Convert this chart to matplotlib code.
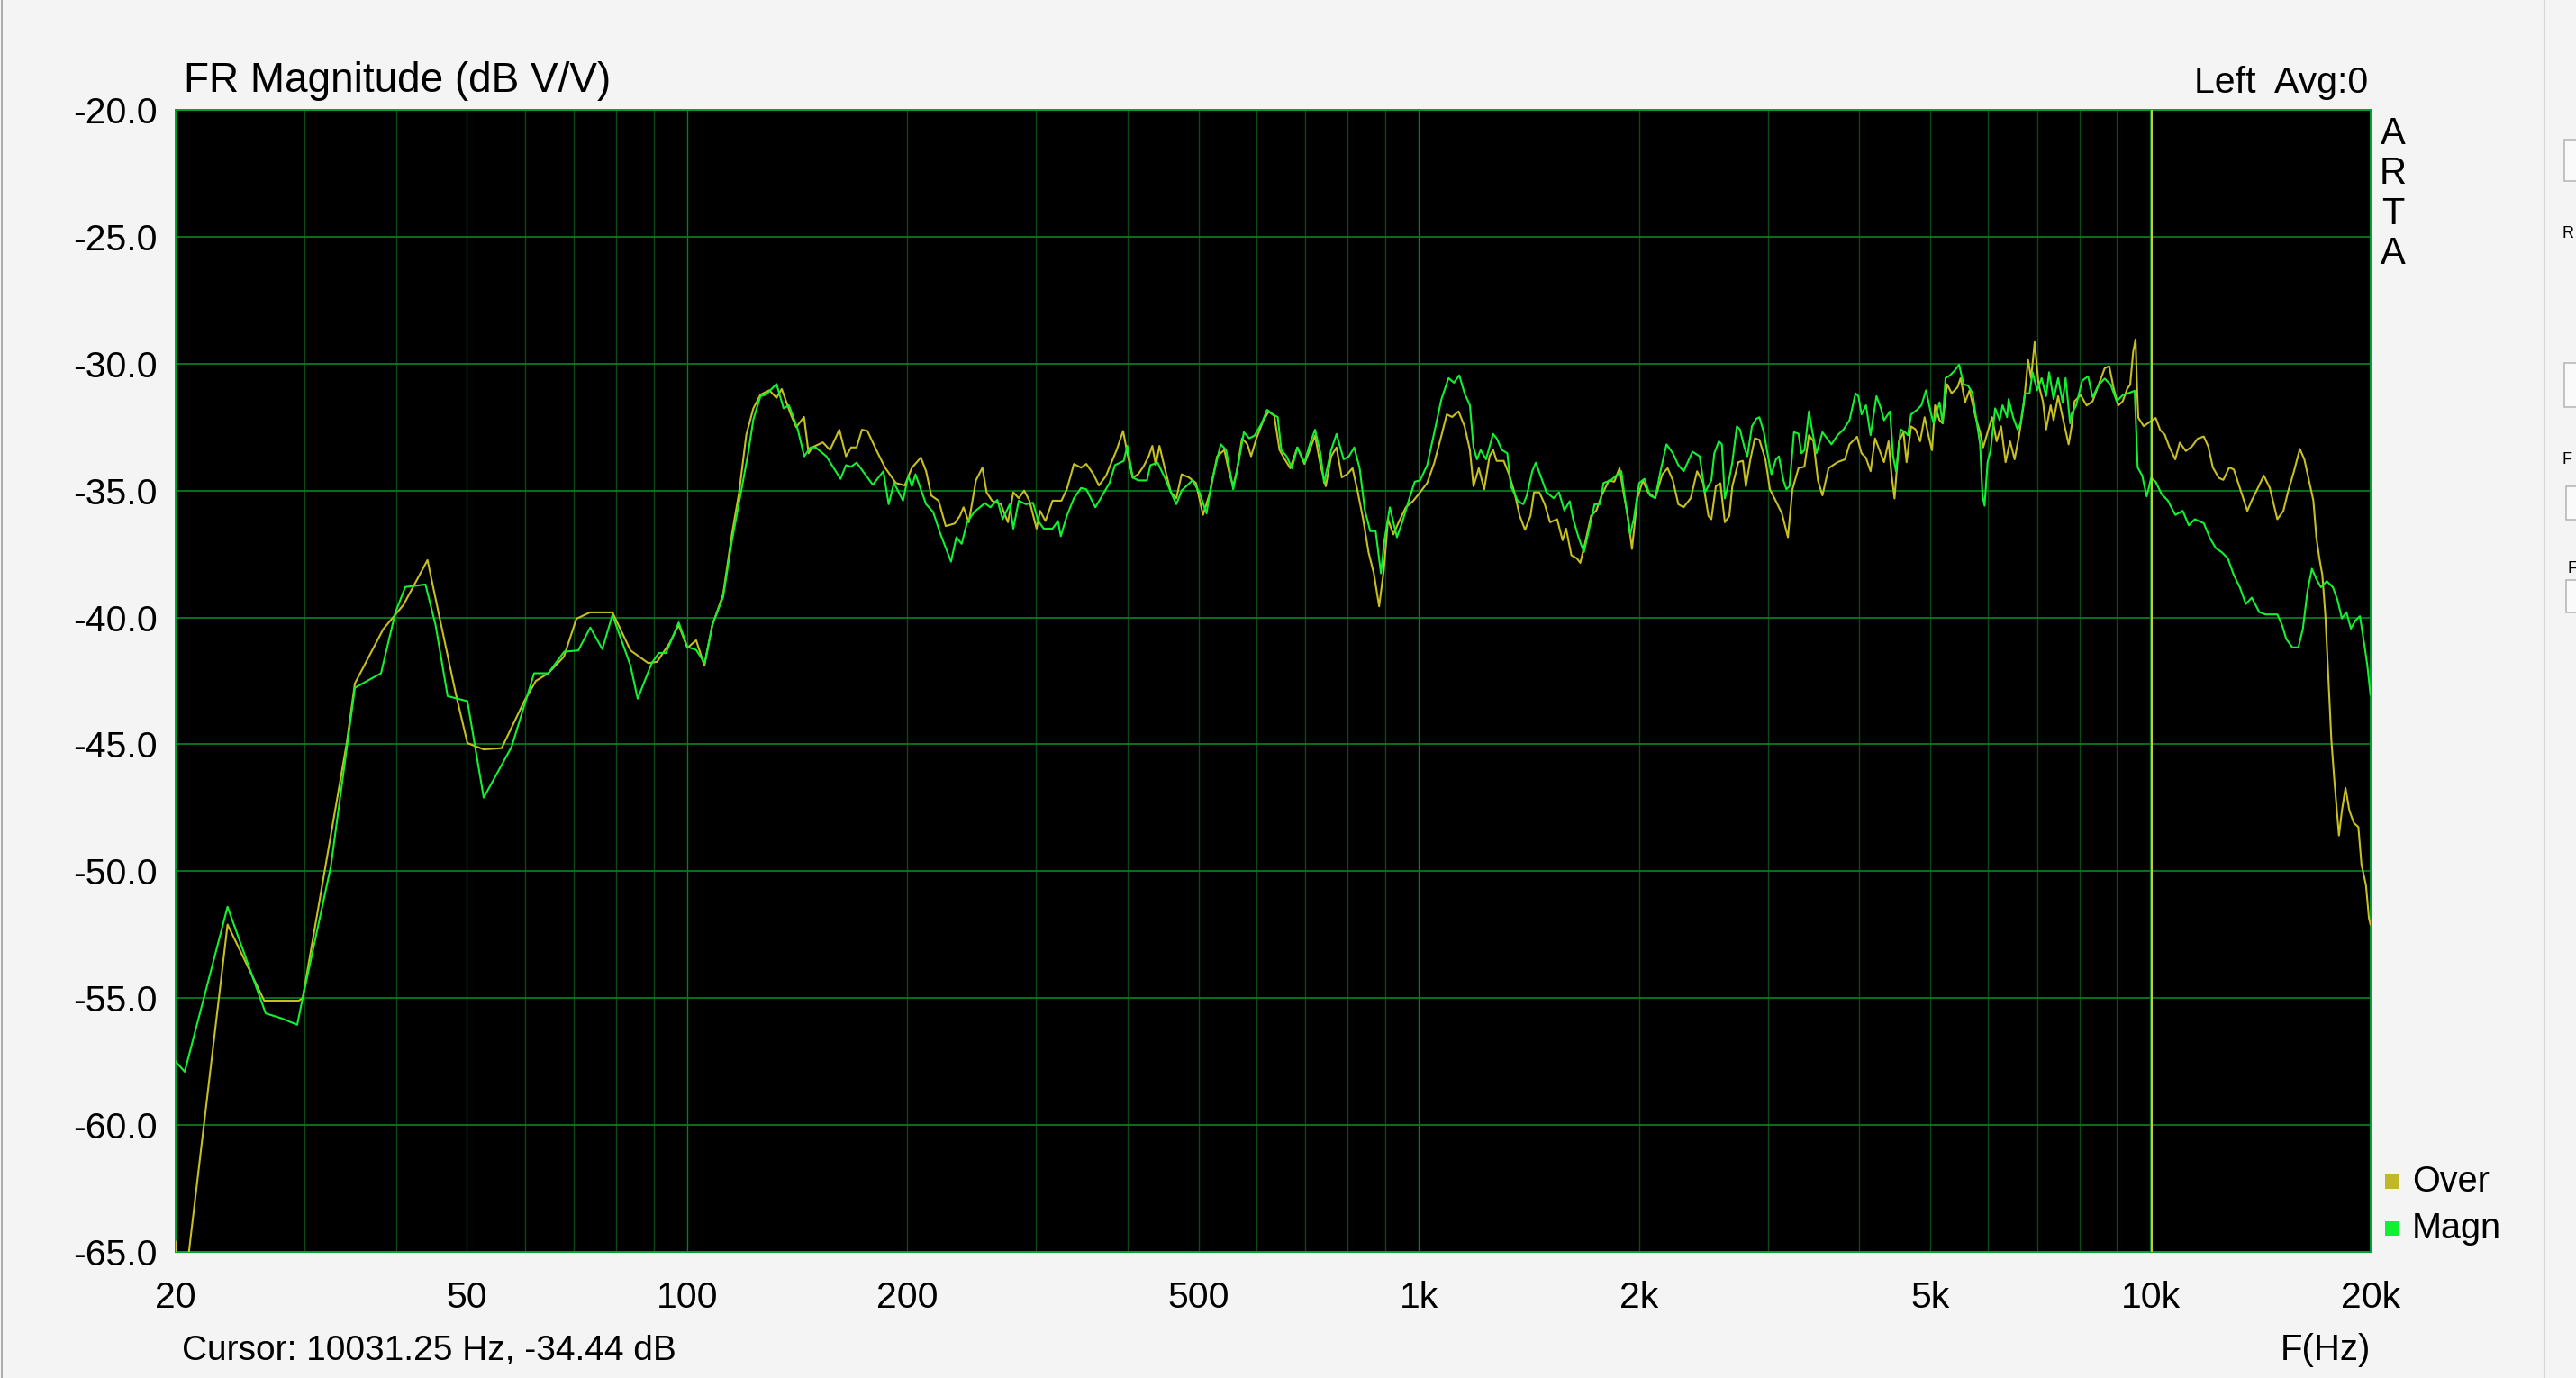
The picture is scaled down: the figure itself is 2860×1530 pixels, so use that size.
# -*- coding: utf-8 -*-
import matplotlib
matplotlib.use('Agg')
import matplotlib.pyplot as plt
from matplotlib.patches import Rectangle
from matplotlib.lines import Line2D
from matplotlib.ticker import NullLocator

plt.rcParams['font.family'] = ['Liberation Sans', 'DejaVu Sans']

# ---------------------
# Data (Hz, dB V/V)
# ---------------------
over_hz = [20.0, 20.35, 23.55, 26.43, 29.47, 29.83, 34.27, 35.16, 38.44, 40.97, 44.18, 45.89, 48.29,
           50.1, 52.73, 55.8, 59.9, 62.15, 64.6, 67.86, 70.6, 73.67, 79.07,
           83.7, 88.5, 91.0, 94.7, 97.4, 100.1, 102.9, 105.6, 108.3, 112.0, 115.2,
           117.8, 120.5, 123.2, 126.0, 129.6, 132.5, 134.7, 138.6, 141.0, 144.5, 146.6, 148.2, 153.3,
           156.8, 161.5, 164.9, 167.6, 170.5, 173.4, 176.4, 181.4, 186.5, 192.9, 198.4, 202.9, 208.7,
           212.2, 215.7, 220.7, 225.7, 232.1, 236.0, 238.7, 242.7, 248.2, 253.3, 256.7, 261.1, 268.5,
           274.5, 279.2, 284.0, 288.9, 293.7, 300.4, 303.7, 308.9, 315.9, 324.8, 330.4, 337.9, 345.5,
           351.3, 359.3, 365.5, 373.8, 380.1, 386.5, 394.4, 399.7, 406.5, 413.5, 420.4, 427.5, 432.4,
           437.2, 442.2, 449.5,
           458.5, 466.4, 474.2, 485.0, 496.0, 507.2, 518.6, 530.3, 542.4, 551.5, 557.8, 564.1, 573.5,
           583.3, 590.0, 600.0, 613.5, 623.9, 634.6, 645.3, 656.1, 667.4, 682.5, 697.9, 709.7, 721.6,
           734.0, 746.4, 759.2, 772.0, 785.0, 798.2, 811.9, 825.6, 839.5, 853.9, 868.2, 882.8, 895.9,
           907.9, 923.2, 938.8, 960.3, 982.0, 1004.2, 1027.0, 1050.3, 1074.1, 1092.2, 1110.9, 1133.5,
           1155.2, 1174.7, 1188.1, 1208.1, 1228.9, 1249.6, 1263.8, 1277.9, 1306.7, 1328.7, 1351.5,
           1374.3, 1397.5, 1421.5, 1437.3, 1461.6, 1486.6, 1511.7, 1546.0, 1572.5, 1590.0, 1616.8,
           1644.5, 1662.8, 1691.4, 1720.0, 1749.1, 1778.6, 1819.5, 1850.2, 1881.4, 1902.9, 1930.6,
           1956.5, 1990.0, 2024.2, 2058.3, 2104.7, 2152.2, 2188.5, 2225.4, 2263.6, 2301.7, 2353.6,
           2401.3, 2447.3, 2488.6,
           2511.5, 2547.3, 2583.7, 2620.6, 2657.9, 2682.9, 2734.7, 2773.7, 2799.7, 2839.7, 2880.2,
           2921.2, 2977.2, 3019.6, 3077.6, 3135.8, 3196.1, 3241.7, 3303.8, 3366.4, 3414.6, 3463.4,
           3512.8, 3562.9, 3631.1, 3735.5, 3824.5, 3879.2, 3972.7, 4029.4, 4085.9, 4145.3, 4204.4,
           4264.4, 4324.3, 4387.1, 4427.3, 4469.9, 4532.7, 4597.4, 4642.9, 4709.1, 4776.4, 4844.6,
           4913.7, 4983.9, 5029.4, 5077.9, 5150.4, 5200.3, 5274.6, 5349.8, 5449.8, 5503.7, 5581.1,
           5660.7, 5769.1, 5851.4, 5908.0, 5990.8, 6076.4, 6163.2, 6251.1, 6340.3, 6430.8, 6522.6,
           6615.7, 6710.2, 6805.9, 6869.9, 6948.2, 7033.4, 7133.8, 7202.9, 7305.7, 7374.4, 7479.6,
           7586.4, 7731.5,
           7804.5, 7877.9, 8028.9, 8182.7, 8337.3, 8457.2, 8660.8, 8785.3, 8911.0, 9037.7, 9167.0,
           9296.3, 9383.5, 9472.3, 9544.7, 9590.7, 9626.2, 9791.8, 9979.7, 10168.7, 10314.2, 10461.2,
           10610.8, 10814.4, 10968.6, 11178.9, 11389.7, 11608.1, 11830.7, 12000.0, 12171.3, 12401.6,
           12578.7, 12816.6, 13002.2, 13251.4, 13567.2, 13758.0, 14024.6, 14289.3, 14563.4, 14910.3,
           15196.1, 15413.0, 15708.3, 16005.0, 16233.7, 16465.2, 16700.2, 16861.9, 17020.6, 17180.6,
           17346.9, 17510.3, 17674.7, 17846.0, 18100.9, 18271.4, 18479.8, 18705.5, 18972.2, 19243.7,
           19430.3, 19707.6, 19892.5, 19988.6]
over_db = [-64.6, -67.6, -52.1, -55.1, -55.1, -55.0, -44.95, -42.6, -40.46, -39.5, -37.74, -40.0, -43.0,
           -44.95, -45.2, -45.15, -43.3, -42.5, -42.2, -41.55, -40.05, -39.8, -39.8,
           -41.3, -41.8, -41.75, -41.0, -40.3, -41.2, -40.9, -41.9, -40.3, -39.1, -36.7,
           -35.07, -32.8, -31.76, -31.22, -31.05, -31.35, -31.0, -32.0, -32.5, -32.1, -33.53, -33.3, -33.1,
           -33.4, -32.6, -33.65, -33.3, -33.3, -32.6, -32.65, -33.4, -34.1, -34.7, -34.8, -34.1, -33.7,
           -34.24, -35.2, -35.4, -36.4, -36.3, -36.0, -35.66, -36.25, -34.6, -34.1, -35.07, -35.4, -35.54,
           -36.25, -35.07, -35.3, -35.0, -35.4, -36.5, -35.8, -36.2, -35.4, -35.4, -34.95, -33.95, -34.1,
           -33.95, -34.36, -34.8, -34.42, -33.9, -33.4, -32.65, -33.53, -34.5, -34.36, -34.06, -33.65, -33.24,
           -34.0, -33.24, -34.1,
           -35.07, -35.3, -34.36, -34.48, -34.7, -35.96, -35.07, -33.65, -33.4, -34.36, -34.83, -34.24, -32.94,
           -33.18, -33.65, -32.94, -32.23, -31.88, -32.05, -33.4, -33.77, -34.12, -33.3, -33.95, -33.4, -32.83,
           -34.0, -34.83, -33.65, -33.3, -34.48, -34.36, -34.12, -35.07, -36.13, -37.43, -38.26, -39.56, -38.14,
           -36.13, -36.73, -36.25, -35.66, -35.42, -35.07, -34.7, -33.9, -32.83, -32.0, -32.1, -31.88,
           -32.47, -33.4, -34.83, -34.12, -34.95, -33.65, -33.4, -33.83, -33.83, -34.36, -35.07,
           -36.0, -36.55, -36.0, -35.07, -35.07, -35.54, -36.25, -36.13, -36.96, -36.5, -37.55,
           -37.67, -37.85, -36.96, -36.0, -35.78, -35.19, -34.6, -34.65, -34.12, -35.0, -36.0,
           -37.3, -35.3, -34.6, -35.07, -35.3, -34.36, -34.12, -34.6, -35.54, -35.66, -35.3,
           -34.24, -34.7, -36.0,
           -36.13, -34.83, -34.71, -36.25, -36.0, -34.83, -33.88, -33.83, -34.83, -33.77, -32.94,
           -33.0, -33.77, -34.95, -35.42, -35.9, -36.84, -34.95, -34.12, -34.06, -32.82, -33.06,
           -34.6, -35.19, -34.12, -33.88, -33.77, -33.18, -32.88, -33.53, -33.71, -34.24, -32.94,
           -33.41, -33.88, -33.06, -34.36, -35.31, -33.06, -32.7, -33.88, -32.47, -32.59, -33.06,
           -32.11, -32.94, -33.41, -31.64, -32.23, -32.35, -30.81, -31.17, -30.93, -30.57, -31.52,
           -31.05, -32.11, -32.7, -33.3, -32.7, -32.11, -33.06, -32.47, -33.88, -33.06, -33.77,
           -32.82, -31.64, -29.86, -30.57, -29.15, -30.81, -31.52, -32.59, -31.64, -32.23, -31.28,
           -32.11, -33.18,
           -32.46, -31.48, -31.24, -31.65, -31.48, -30.99, -30.18, -30.1, -30.99, -31.65, -31.48,
           -30.99, -30.83, -29.53, -29.04, -30.99, -32.13, -32.46, -32.3, -32.14, -32.62, -32.79,
           -33.27, -33.77, -33.11, -33.44, -33.27, -32.95, -32.87, -33.27, -34.09, -34.5,
           -34.58, -34.09, -34.17, -34.9, -35.8, -35.39, -34.9, -34.41, -34.9, -36.13,
           -35.8, -35.07, -34.25, -33.36, -33.77, -34.58, -35.39, -36.86, -37.67, -38.33,
           -39.95, -42.4, -44.84, -46.47, -48.59, -47.61, -46.72, -47.61, -48.1, -48.26,
           -49.73, -50.55, -51.85, -52.1]

magn_hz = [20.0, 20.58, 23.55, 26.55, 27.94, 29.32, 29.83, 32.6, 35.16, 38.17, 39.94, 41.2, 43.9,
           45.32, 47.07, 50.1, 52.73, 57.57, 61.8, 64.6, 67.93, 71.0, 73.75, 76.6, 79.07,
           83.7, 85.6, 89.5, 91.5, 93.6, 97.4, 100.1, 102.9, 105.7, 108.3, 112.0, 115.2,
           118.5, 121.2, 123.2, 126.0, 128.2, 132.5, 135.5, 137.8, 141.7, 144.6, 147.4, 149.9, 155.0,
           162.1, 164.9, 167.6, 170.5, 179.4, 185.5, 188.6, 191.8, 197.3, 200.6, 202.9, 205.2, 212.2,
           216.9, 221.9, 229.5, 233.4, 237.3, 241.4, 246.9, 255.3, 259.7, 265.5, 270.0, 276.1, 279.2,
           284.0, 290.5, 297.0, 302.0, 307.2, 315.9, 321.3, 324.2, 330.4, 337.9, 345.5, 351.3, 361.4,
           367.6, 377.9, 384.4, 395.2, 399.7, 406.5, 413.5, 425.1, 429.9, 439.7, 449.5,
           458.5, 466.4, 474.2, 490.4, 501.5, 512.8, 521.6, 536.4, 545.4, 557.8, 567.2, 576.8, 586.7,
           596.6, 610.1, 620.5, 631.0, 641.6, 648.9, 659.8, 671.0, 682.5, 697.9, 709.7, 721.6, 734.0,
           742.4, 759.2, 772.0, 789.5, 802.8, 816.3, 830.3, 844.2, 858.4, 873.2, 887.9, 897.7, 913.1,
           933.7, 949.4, 971.2, 987.6, 1004.2, 1027.0, 1050.3, 1074.1, 1098.4, 1117.3, 1136.1, 1155.2,
           1174.7, 1188.1, 1201.3, 1215.0, 1235.8, 1263.8, 1277.9, 1299.3, 1321.6, 1336.3, 1366.5,
           1390.0, 1405.4, 1429.2, 1445.5, 1469.9, 1495.1, 1528.6, 1554.8, 1581.0, 1608.1, 1626.0,
           1653.4, 1681.8, 1710.2, 1739.2, 1769.1, 1788.7, 1829.3, 1871.3, 1892.2, 1913.1, 1945.4,
           1967.5, 2001.3, 2035.1, 2069.4, 2104.7, 2140.0, 2181.0, 2225.4, 2263.6, 2301.7, 2367.0,
           2420.7, 2461.2,
           2511.5, 2535.1, 2571.3, 2596.2, 2620.6, 2645.1, 2682.9, 2721.6, 2747.9, 2787.0, 2813.2,
           2853.4, 2894.0, 2921.2, 2962.8, 2991.6, 3034.2, 3077.6, 3106.6, 3151.0, 3180.7, 3211.5,
           3257.3, 3303.8, 3335.0, 3366.4, 3414.6, 3447.0, 3496.9, 3562.9, 3613.7, 3665.2, 3735.5,
           3807.1, 3879.2, 3953.5, 3989.8, 4029.4, 4085.9, 4145.3, 4222.6, 4282.9, 4324.3, 4407.0,
           4449.7, 4491.5, 4555.5, 4620.6, 4662.9, 4709.1, 4798.1, 4865.5, 4934.9, 5006.5, 5055.0,
           5150.4, 5200.3, 5247.9, 5322.8, 5398.9, 5477.3, 5555.5, 5634.8, 5715.3, 5769.1, 5851.4,
           5894.6, 5934.8, 5990.8, 6048.5, 6135.0, 6222.6, 6279.5, 6369.1, 6399.9, 6491.2, 6583.9,
           6645.7, 6740.6, 6836.8, 6903.1, 7001.6, 7101.5, 7202.9, 7270.6, 7374.4, 7479.6, 7586.4,
           7657.6, 7766.9,
           7804.5, 7915.9, 8067.7, 8219.8, 8337.3, 8498.2, 8660.8, 8825.3, 8993.2, 9167.0, 9338.5,
           9517.6, 9563.5, 9607.3, 9744.6, 9884.1, 10025.2, 10168.7, 10363.6, 10562.7, 10814.4,
           11071.6, 11283.6, 11500.0, 11830.7, 12054.6, 12285.7, 12518.3, 12757.9, 13002.2, 13251.4,
           13501.9, 13758.0, 14088.3, 14358.6, 14633.7, 14910.3, 15125.8, 15335.4, 15632.5, 15932.6,
           16159.9, 16390.7, 16624.7, 16861.9, 17102.9, 17422.1, 17760.5, 18013.6, 18271.4, 18531.4,
           18795.7, 19064.4, 19336.9, 19613.1, 19796.8, 19988.6]
magn_db = [-57.5, -57.9, -51.4, -55.6, -55.8, -56.05, -55.0, -49.8, -42.77, -42.2, -39.8, -38.8, -38.7,
           -40.3, -43.1, -43.3, -47.1, -45.1, -42.2, -42.2, -41.35, -41.3, -40.4, -41.25, -39.9,
           -41.9, -43.2, -41.8, -41.4, -41.4, -40.2, -41.16, -41.28, -41.8, -40.27, -39.2, -36.96,
           -35.07, -33.53, -32.2, -31.28, -31.22, -30.8, -31.76, -31.64, -32.6, -33.65, -33.3, -33.3, -33.65,
           -34.54, -34.0, -34.06, -33.9, -34.77, -34.24, -35.54, -34.7, -35.4, -34.42, -34.83, -34.36, -35.54,
           -35.84, -36.7, -37.8, -36.84, -37.1, -36.25, -35.84, -35.5, -35.66, -35.37, -36.13, -35.54, -36.5,
           -35.4, -35.54, -35.48, -36.2, -36.5, -36.5, -36.2, -36.8, -36.0, -35.3, -34.9, -34.95, -35.66,
           -35.3, -34.7, -34.0, -33.83, -33.24, -34.48, -34.6, -34.6, -34.0, -33.9, -34.48,
           -35.07, -35.54, -35.0, -34.6, -35.07, -35.9, -34.6, -33.18, -33.4, -34.95, -33.9, -32.7, -32.94,
           -32.83, -32.35, -31.82, -32.0, -32.1, -33.4, -33.65, -34.12, -33.3, -33.9, -33.18, -32.6, -33.53,
           -34.7, -33.4, -32.77, -33.77, -33.65, -33.3, -34.12, -35.78, -36.6, -36.6, -38.26, -36.96, -35.66,
           -36.84, -36.25, -35.3, -34.65, -34.6, -34.0, -32.7, -31.4, -30.57, -30.75, -30.46, -31.17,
           -31.64, -33.3, -33.77, -33.4, -33.77, -32.77, -32.94, -33.4, -33.53, -34.83, -35.42,
           -35.54, -35.19, -34.24, -33.9, -34.48, -35.07, -35.3, -35.07, -35.78, -35.42, -36.13,
           -36.84, -37.43, -36.5, -35.54, -35.54, -34.7, -34.6, -34.36, -34.24, -35.3, -36.73,
           -36.13, -34.7, -34.54, -35.19, -35.3, -34.24, -33.18, -33.53, -34.0, -34.24, -33.47,
           -33.65, -35.07,
           -34.6, -33.53, -33.06, -33.18, -35.31, -34.83, -33.88, -32.47, -32.59, -33.3, -33.65,
           -32.47, -32.17, -32.11, -32.7, -33.41, -34.36, -33.77, -33.65, -34.6, -34.95, -34.83,
           -32.7, -32.76, -33.53, -33.41, -31.88, -32.59, -33.53, -32.7, -32.94, -33.18, -32.82,
           -32.59, -32.23, -31.17, -31.28, -32.0, -31.64, -32.82, -31.28, -31.76, -32.23, -31.88,
           -33.65, -34.24, -32.59, -32.7, -32.82, -32.0, -31.82, -31.64, -31.05, -31.88, -32.35,
           -31.52, -32.35, -30.57, -30.46, -30.28, -30.04, -30.81, -30.87, -31.17, -32.0, -33.18,
           -35.19, -35.6, -33.88, -33.41, -31.76, -32.23, -31.64, -32.11, -31.4, -32.11, -32.59,
           -32.35, -31.17, -31.17, -30.34, -31.05, -30.57, -31.28, -30.34, -31.4, -30.57, -31.52,
           -30.57, -32.35,
           -31.97, -31.65, -30.67, -30.5, -31.32, -30.83, -30.59, -30.83, -31.48, -31.24, -31.16,
           -31.07, -32.62, -34.09, -34.41, -35.23, -34.5, -34.66, -35.15, -35.39, -35.96,
           -35.8, -36.37, -36.13, -36.29, -36.86, -37.27, -37.43, -37.67, -38.33, -38.81,
           -39.47, -39.22, -39.79, -39.88, -39.88, -39.88, -40.28, -40.85, -41.18, -41.18,
           -40.44, -38.98, -38.08, -38.49, -38.81, -38.57, -38.81, -39.3, -40.04, -39.79,
           -40.44, -40.12, -39.95, -41.1, -41.91, -43.05]

cursor_hz = 10031.25
cursor_db = -34.44

xtick_hz = [20, 50, 100, 200, 500, 1000, 2000, 5000, 10000, 20000]
xtick_lbl = ['20', '50', '100', '200', '500', '1k', '2k', '5k', '10k', '20k']
ytick_db = [-65, -60, -55, -50, -45, -40, -35, -30, -25, -20]
grid_minor = [30, 40, 50, 60, 70, 80, 90, 200, 300, 400, 500, 600, 700, 800, 900,
              2000, 3000, 4000, 5000, 6000, 7000, 8000, 9000]
grid_major = [100, 1000, 10000]

# ---------------------
# Figure
# ---------------------
W, H = 2860., 1530.
bg = '#f4f4f4'
fig = plt.figure(figsize=(W / 100, H / 100), dpi=100, facecolor=bg)
ax = fig.add_axes([195 / W, 1 - 1390 / H, (2632 - 195) / W, (1390 - 122) / H])
ax.set_facecolor('black')
ax.set_xscale('log')
ax.set_xlim(20, 20000)
ax.set_ylim(-65, -20)

for f in grid_minor:
    ax.axvline(f, color='#0b4a12', lw=1.0, zorder=1)
for f in grid_major:
    ax.axvline(f, color='#0a7a1c', lw=1.0, zorder=1)
for v in ytick_db:
    ax.axhline(v, color='#0a7a1c', lw=1.3, zorder=1)

ax.plot(over_hz, over_db, color='#c8c020', lw=1.5, zorder=3)
ax.plot(magn_hz, magn_db, color='#12f232', lw=1.5, zorder=4)
ax.axvline(cursor_hz, color='#d6cc2a', lw=1.4, zorder=5)

for s in ax.spines.values():
    s.set_color('#00a030')
    s.set_linewidth(1.4)

ax.set_xticks(xtick_hz)
ax.set_xticklabels(xtick_lbl)
ax.xaxis.set_minor_locator(NullLocator())
ax.set_yticks(ytick_db)
ax.set_yticklabels(['%.1f' % v for v in ytick_db])
ax.tick_params(axis='both', length=0, labelsize=29.5, colors='black')
ax.tick_params(axis='x', pad=23)
ax.tick_params(axis='y', pad=14.4)

# header and labels
fig.text(204 / W, 1 - 102 / H, 'FR Magnitude (dB V/V)', fontsize=33, ha='left', va='baseline')
fig.text(2629 / W, 1 - 103 / H, 'Left  Avg:0', fontsize=29.5, ha='right', va='baseline')
for i, ch in enumerate('ARTA'):
    fig.text(2657 / W, 1 - (160 + 44.3 * i) / H, ch, fontsize=30, ha='center', va='baseline')

fig.text(202 / W, 1 - 1510 / H, 'Cursor: %.2f Hz, %.2f dB' % (cursor_hz, cursor_db),
         fontsize=28, ha='left', va='baseline')
fig.text(2632 / W, 1 - 1510 / H, 'F(Hz)', fontsize=29, ha='right', va='baseline')

# legend squares
fig.add_artist(Rectangle((2648 / W, 1 - 1320 / H), 16 / W, 16 / H, transform=fig.transFigure,
                         facecolor='#c0b828', edgecolor='none'))
fig.add_artist(Rectangle((2648 / W, 1 - 1372 / H), 16 / W, 16 / H, transform=fig.transFigure,
                         facecolor='#10f030', edgecolor='none'))
fig.text(2678 / W, 1 - 1323 / H, 'Over', fontsize=28.5, ha='left', va='baseline')
fig.text(2678 / W, 1 - 1375 / H, 'Magn', fontsize=28.5, ha='left', va='baseline')

# window frame bits at the edges
fig.add_artist(Line2D([2 / W, 2 / W], [0, 1], transform=fig.transFigure, color='#a0a0a0', lw=1.2))
fig.add_artist(Line2D([2825 / W, 2825 / W], [0, 1], transform=fig.transFigure, color='#d8d8d8', lw=1.5))
for y0, y1, x0 in [(155, 201, 2847), (403, 452, 2847), (540, 577, 2849), (644, 680, 2849)]:
    fig.add_artist(Rectangle((x0 / W, 1 - y1 / H), 40 / W, (y1 - y0) / H, transform=fig.transFigure,
                             facecolor='#fafafa', edgecolor='#b8b8b8', lw=1.2))
fig.text(2845 / W, 1 - 264 / H, 'R', fontsize=13, ha='left', va='baseline')
fig.text(2845 / W, 1 - 515 / H, 'F', fontsize=13, ha='left', va='baseline')
fig.text(2851 / W, 1 - 636 / H, 'F', fontsize=13, ha='left', va='baseline')

fig.savefig('out.png', dpi=100, facecolor=bg)
